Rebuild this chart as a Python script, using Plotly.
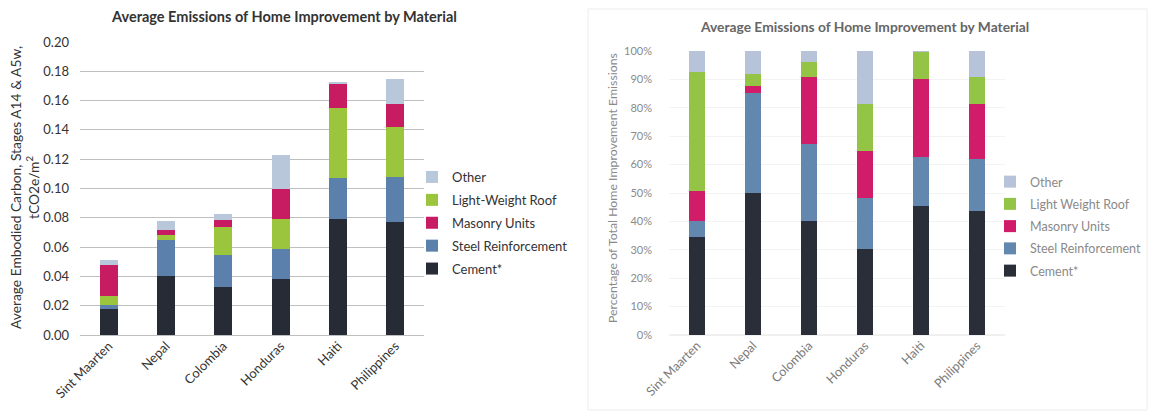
import plotly.graph_objects as go

W, H = 1149, 411

countries = ["Sint Maarten", "Nepal", "Colombia", "Honduras", "Haiti", "Philippines"]

# Average embodied carbon, tCO2e/m2
cement_abs = [0.018, 0.040, 0.033, 0.038, 0.079, 0.077]
steel_abs = [0.0025, 0.025, 0.0216, 0.021, 0.028, 0.031]
roof_abs = [0.006, 0.003, 0.0194, 0.0205, 0.048, 0.034]
masonry_abs = [0.021, 0.0035, 0.0045, 0.0205, 0.016, 0.016]
other_abs = [0.004, 0.0065, 0.004, 0.0232, 0.002, 0.017]

# Share of total home improvement emissions, %
cement_pct = [34.5, 50.0, 40.0, 30.2, 45.6, 43.8]
steel_pct = [5.5, 35.3, 27.3, 18.0, 17.1, 18.0]
masonry_pct = [10.6, 2.3, 23.5, 16.5, 27.3, 19.4]
roof_pct = [42.0, 4.2, 5.3, 16.8, 9.8, 9.6]
other_pct = [7.4, 8.2, 3.9, 18.5, 0.2, 9.2]

y_ticks_abs = [0.00, 0.02, 0.04, 0.06, 0.08, 0.10, 0.12, 0.14, 0.16, 0.18, 0.20]
y_ticks_pct = [0, 10, 20, 30, 40, 50, 60, 70, 80, 90, 100]
y_ticks_pct_text = ["0%", "10%", "20%", "30%", "40%", "50%", "60%", "70%", "80%", "90%", "100%"]

# Left panel: stacked bottom-up as cement, steel, roof, masonry, other
left_stack = [
    ("Cement*", cement_abs, "#262b36", 5),
    ("Steel Reinforcement", steel_abs, "#5b80ab", 4),
    ("Light-Weight Roof", roof_abs, "#9bc53d", 2),
    ("Masonry Units", masonry_abs, "#c81c62", 3),
    ("Other", other_abs, "#b9c7da", 1),
]
# Right panel: stacked bottom-up as cement, steel, masonry, roof, other
right_stack = [
    ("Cement*", cement_pct, "#2a2e39", 5),
    ("Steel Reinforcement", steel_pct, "#6388b0", 4),
    ("Masonry Units", masonry_pct, "#d11c69", 3),
    ("Light Weight Roof", roof_pct, "#94c445", 2),
    ("Other", other_pct, "#b6c3d9", 1),
]


def px(x):
    return x / W


def py(y):
    return 1 - y / H


FONT = "Lato"
fig = go.Figure()

for name, vals, col, rank in left_stack:
    fig.add_trace(go.Bar(
        x=countries, y=vals, name=name, marker_color=col, marker_line_width=0,
        width=0.31, xaxis="x", yaxis="y", legend="legend", legendrank=rank,
        legendgroup="L" + name,
    ))

for name, vals, col, rank in right_stack:
    fig.add_trace(go.Bar(
        x=countries, y=vals, name=name, marker_color=col, marker_line_width=0,
        width=0.29, xaxis="x2", yaxis="y2", legend="legend2", legendrank=rank,
        legendgroup="R" + name,
    ))

fig.update_layout(
    width=W, height=H,
    margin=dict(l=0, r=0, t=0, b=0, autoexpand=False),
    paper_bgcolor="white", plot_bgcolor="white",
    barmode="stack",
    font=dict(family=FONT, color="#333333", size=12),
    xaxis=dict(
        domain=[px(80), px(424)], anchor="y", automargin=False,
        tickangle=-45, tickfont=dict(size=13, color="#333333"),
        showgrid=False, showline=False, ticks="",
    ),
    yaxis=dict(
        domain=[py(335), py(42)], anchor="x", automargin=False,
        range=[0, 0.2], tickvals=y_ticks_abs, tickformat=".2f",
        tickfont=dict(size=13, color="#333333"),
        showgrid=True, gridcolor="#bfbfbf", gridwidth=1,
        zeroline=True, zerolinecolor="#bfbfbf", zerolinewidth=1,
        showline=False, ticks="", ticklabelstandoff=10,
    ),
    xaxis2=dict(
        domain=[px(669), px(1005)], anchor="y2", automargin=False,
        tickangle=-45, tickfont=dict(size=12.5, color="#7a7a7a"),
        showgrid=False, showline=False, ticks="",
    ),
    yaxis2=dict(
        domain=[py(335), py(51)], anchor="x2", automargin=False,
        range=[0, 100], tickvals=y_ticks_pct, ticktext=y_ticks_pct_text,
        tickfont=dict(size=11, color="#8a8a8a"),
        showgrid=True, gridcolor="#f3f3f3", gridwidth=1,
        zeroline=True, zerolinecolor="#f0f0f0",
        showline=False, ticks="", ticklabelstandoff=16,
    ),
    legend=dict(
        x=px(412), y=py(162), xanchor="left", yanchor="top",
        traceorder="grouped", tracegroupgap=3,
        font=dict(size=13, color="#333333"), bgcolor="rgba(0,0,0,0)",
        itemwidth=30,
    ),
    legend2=dict(
        x=px(990), y=py(167), xanchor="left", yanchor="top",
        traceorder="grouped", tracegroupgap=3,
        font=dict(size=12.5, color="#8a8a8a"), bgcolor="rgba(0,0,0,0)",
        itemwidth=30,
    ),
    showlegend=True,
)

annotations = [
    dict(text="<b>Average Emissions of Home Improvement by Material</b>",
         x=px(284), y=py(17), xref="paper", yref="paper", showarrow=False,
         xanchor="center", yanchor="middle",
         font=dict(size=14.5, color="#333333", family=FONT)),
    dict(text="Average Embodied Carbon, Stages A14 & A5w,<br>tCO2e/m<sup>2</sup>",
         x=px(24), y=py(188), xref="paper", yref="paper", showarrow=False,
         xanchor="center", yanchor="middle",
         textangle=-90, font=dict(size=13.8, color="#333333", family=FONT)),
    dict(text="<b>Average Emissions of Home Improvement by Material</b>",
         x=px(864), y=py(26), xref="paper", yref="paper", showarrow=False,
         xanchor="center", yanchor="middle",
         font=dict(size=13.8, color="#666666", family=FONT)),
    dict(text="Percentage of Total Home Improvement Emissions",
         x=px(612), y=py(188), xref="paper", yref="paper", showarrow=False,
         xanchor="center", yanchor="middle",
         textangle=-90, font=dict(size=12.3, color="#8a8a8a", family=FONT)),
]
fig.update_layout(annotations=annotations)

# faint frame around the percentage panel
fig.add_shape(type="rect", xref="paper", yref="paper",
              x0=px(588), x1=px(1147), y0=py(410), y1=py(9),
              line=dict(color="#ececec", width=1), fillcolor="rgba(0,0,0,0)", layer="below")

fig.write_html("out.html")
